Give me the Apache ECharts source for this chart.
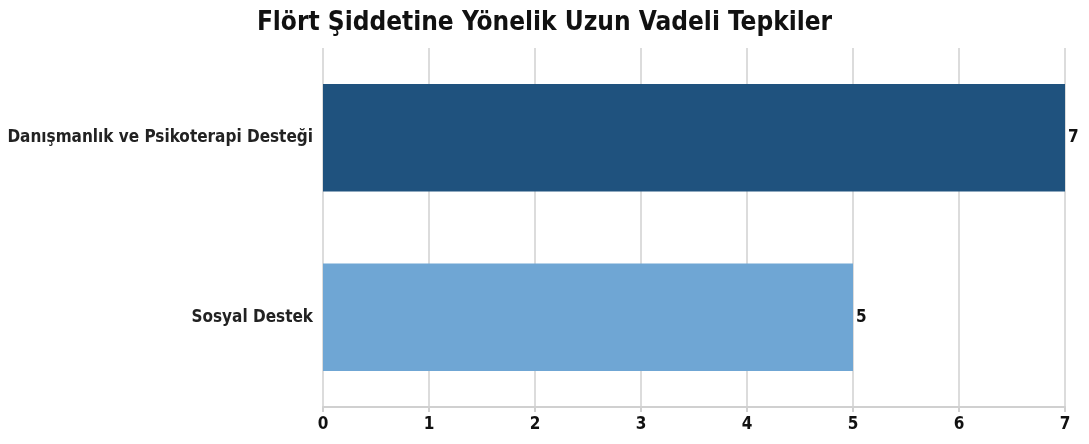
<!DOCTYPE html>
<html><head><meta charset="utf-8">
<script src="https://cdn.jsdelivr.net/npm/echarts@6/dist/echarts.min.js"></script>
<style>html,body{margin:0;padding:0;background:#fff}#c{width:1089px;height:444px}</style>
</head><body><div id="c"></div>
<script>
const categories = ["Danışmanlık ve Psikoterapi Desteği", "Sosyal Destek"];
const values = [7, 5];
const barColors = ["#1f527e", "#6fa6d4"];
const titleText = "Flört Şiddetine Yönelik Uzun Vadeli Tepkiler";
const FONT = "DejaVu Sans Condensed";
const chart = echarts.init(document.getElementById('c'), null, {renderer:'canvas'});
chart.setOption({
  animation:false,
  backgroundColor:'#fff',
  title:{text:titleText,left:'center',top:5,textStyle:{fontFamily:FONT,fontWeight:'bold',fontSize:26,color:'#111'}},
  grid:{left:323,right:24,top:48,bottom:37,containLabel:false},
  xAxis:{type:'value',min:0,max:7,interval:1,
    axisLine:{show:true,lineStyle:{color:'#d0d0d0',width:2}},
    axisTick:{show:true,length:5,lineStyle:{color:'#d0d0d0',width:2}},
    axisLabel:{fontFamily:FONT,fontWeight:'bold',fontSize:17,color:'#111',margin:9},
    splitLine:{show:true,lineStyle:{color:'#dcdcdc',width:2}}},
  yAxis:{type:'category',data:categories,inverse:true,
    axisLine:{show:false},axisTick:{show:false},
    axisLabel:{fontFamily:FONT,fontWeight:'bold',fontSize:17,color:'#222',margin:10}},
  series:[{type:'bar',barWidth:'60%',
    data:values.map((v,i)=>({value:v,itemStyle:{color:barColors[i]}})),
    label:{show:true,position:'right',distance:3,fontFamily:FONT,fontWeight:'bold',fontSize:17,color:'#111'}}]
});
</script></body></html>
